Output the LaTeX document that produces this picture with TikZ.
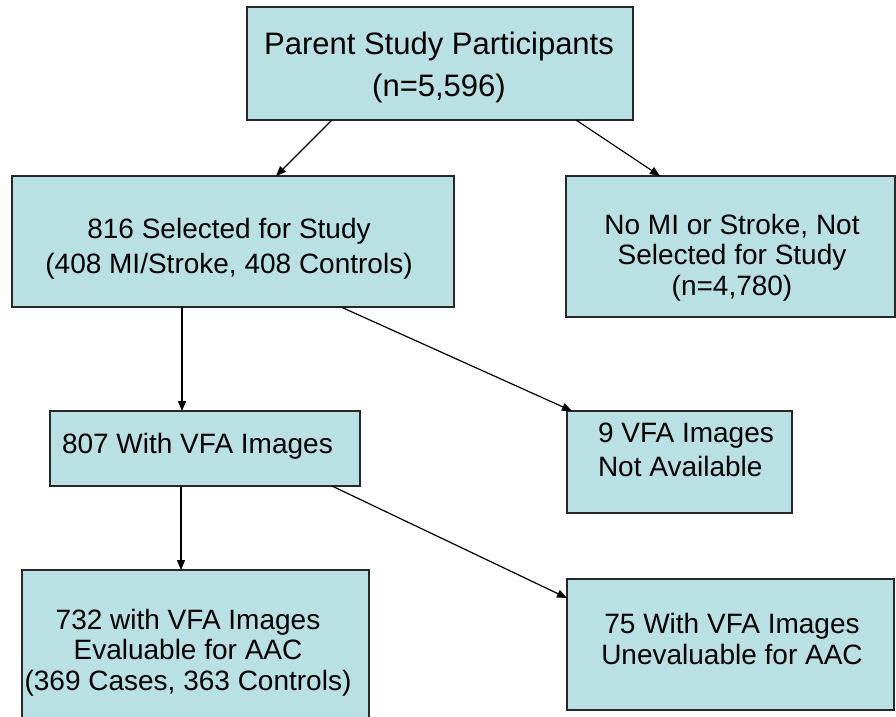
\documentclass[tikz,border=0pt]{standalone}
\usepackage{fontspec}
\setmainfont{Liberation Sans}
\usetikzlibrary{arrows.meta}
\definecolor{boxfill}{RGB}{185,224,227}
\definecolor{boxline}{RGB}{40,40,40}
\begin{document}
\begin{tikzpicture}[x=1pt,y=-1pt,
  box/.style={rectangle, draw=boxline, fill=boxfill, line width=1.3pt, inner sep=0pt, outer sep=0pt},
  txt/.style={inner sep=0pt, outer sep=0pt, align=center, text=black},
  arr/.style={line width=1.2pt, -{Triangle[length=10pt,width=8pt]}}]
\useasboundingbox (0,0) rectangle (896,716);
\clip (0,0) rectangle (896,716);
% boxes
\node[box, minimum width=386pt, minimum height=113pt] (b1) at (440,63.5) {};
\node[box, minimum width=442pt, minimum height=131pt] (b2) at (233,241.5) {};
\node[box, minimum width=329pt, minimum height=141pt] (b3) at (730.5,246.5) {};
\node[box, minimum width=310pt, minimum height=75pt] (b4) at (205,448.5) {};
\node[box, minimum width=225pt, minimum height=102pt] (b5) at (679.5,462) {};
\node[box, minimum width=347pt, minimum height=160pt] (b6) at (195.5,650) {};
\node[box, minimum width=327pt, minimum height=131pt] (b7) at (730.5,644.5) {};
% texts
\node[txt, font=\fontsize{31}{42}\selectfont] (t1) at (439,67) {Parent Study Participants\\(n=5,596)};
\node[txt, font=\fontsize{28}{35}\selectfont] (t2) at (229,248.5) {816 Selected for Study\\(408 MI/Stroke, 408 Controls)};
\node[txt, font=\fontsize{28}{30.5}\selectfont] (t3) at (732,257.5) {No MI or Stroke, Not\\Selected for Study\\(n=4,780)};
\node[txt, anchor=base west, font=\fontsize{28}{34}\selectfont] (t4) at (62,453) {807 With VFA Images};
\node[txt, align=left, anchor=west, font=\fontsize{28}{34}\selectfont] (t5) at (598,450) {9 VFA Images\\Not Available};
\node[txt, font=\fontsize{28}{30.5}\selectfont] (t6) at (188,652.5) {732 with VFA Images\\Evaluable for AAC\\(369 Cases, 363 Controls)};
\node[txt, font=\fontsize{28}{31}\selectfont] (t7) at (732,638.5) {75 With VFA Images\\Unevaluable for AAC};
% connectors
\draw[arr] ([xshift=85pt]b1.south west) -- ([xshift=264pt]b2.north west);
\draw[arr] ([xshift=329pt]b1.south west) -- ([xshift=94pt]b3.north west);
\draw[arr] ([xshift=170pt]b2.south west) -- ([xshift=132pt]b4.north west);
\draw[arr] ([xshift=329pt]b2.south west) -- ([xshift=5pt]b5.north west);
\draw[arr] ([xshift=131pt]b4.south west) -- ([xshift=159pt]b6.north west);
\draw[arr] ([xshift=282pt]b4.south west) -- ([yshift=-19pt]b7.north west);
\end{tikzpicture}
\end{document}
